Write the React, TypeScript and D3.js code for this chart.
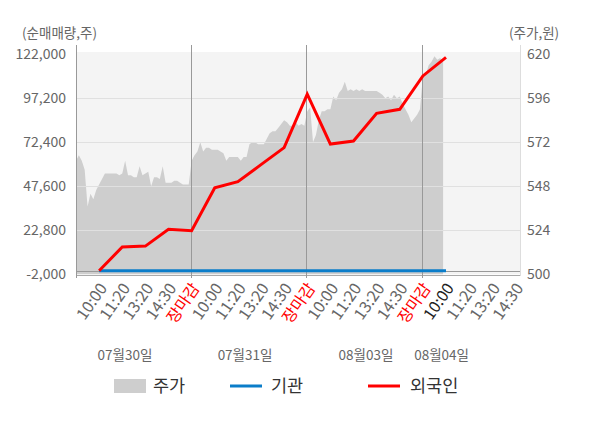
import { useRef, useEffect } from "react";
import * as d3 from "d3";

// x axis labels (one per slot, day 4 is cut at 14:30)
const timeLabels = [
  "10:00", "11:20", "13:20", "14:30", "장마감",
  "10:00", "11:20", "13:20", "14:30", "장마감",
  "10:00", "11:20", "13:20", "14:30", "장마감",
  "10:00", "11:20", "13:20", "14:30",
];
const dateLabels = ["07월30일", "07월31일", "08월03일", "08월04일"];
const volumeTicks = [-2000, 22800, 47600, 72400, 97200, 122000];
const priceTicks = [500, 524, 548, 572, 596, 620];

// cumulative net buy (shares), one value per time label
const foreignNet = [
  0, 13400, 13900, 23400, 22600, 46800, 50200, 59800,
  69400, 99500, 71400, 73100, 88700, 91000, 109800, 120300,
];
const institutionNet = [0, 0, 0, 0, 0, 0, 0, 0, 0, 0, 0, 0, 0, 0, 0, 0];

// intraday price (won), 8 samples per label slot
const price = [
  562, 565, 562, 557, 537, 544, 541, 546, 549, 552, 555, 555, 555, 555, 555, 554, 555, 562, 554, 554,
  553, 553, 559, 554, 555, 556, 548, 553, 553, 552, 559, 550, 550, 550, 551, 551, 550, 549, 549, 549,
  562, 565, 567, 572, 567, 569, 569, 568, 568, 568, 567, 566, 562, 564, 564, 564, 564, 562, 564, 564,
  571, 572, 572, 571, 571, 571, 574, 577, 578, 578, 580, 582, 584, 583, 581, 581, 583, 581, 582, 581,
  589, 591, 572, 576, 584, 589, 589, 590, 590, 597, 595, 599, 601, 605, 600, 601, 600, 601, 600, 601,
  600, 600, 600, 600, 600, 599, 598, 596, 597, 595, 598, 596, 597, 593, 590, 587, 583, 585, 587, 590,
  608, 609, 614, 616, 619, 617, 618, 616,
];

const SAMPLES_PER_SLOT = 8;
const dayBreaks = [5, 10, 15];
const dateLabelPos = [2.12, 7.31, 12.54, 15.81];

const FONT = "'Noto Sans CJK KR', 'Noto Sans', sans-serif";

const App = () => {
  const svgRef = useRef(null);

  useEffect(() => {
    document.body.style.margin = "0";
    d3.select(svgRef.current).selectAll("*").remove();

    const width = 600;
    const height = 428;
    const left = 76;
    const right = 520;
    const top = 54.3;
    const bottom = 274.3;

    const svg = d3
      .select(svgRef.current)
      .attr("width", width)
      .attr("height", height)
      .style("font-family", FONT);

    svg.append("rect").attr("width", width).attr("height", height).attr("fill", "#fff");

    const x = d3.scaleLinear().domain([0, 19.2]).range([left, right]);
    const yVol = d3.scaleLinear().domain([-2000, 122000]).range([bottom, top]);
    const yPrice = d3.scaleLinear().domain([500, 620]).range([bottom, top]);

    // plot background
    svg
      .append("rect")
      .attr("x", left)
      .attr("y", 52)
      .attr("width", right - left)
      .attr("height", bottom - 52)
      .attr("fill", "#f4f4f4");

    // price area
    const area = d3
      .area()
      .x((d, i) => x(i / SAMPLES_PER_SLOT))
      .y0(bottom)
      .y1((d) => yPrice(d));

    svg.append("path").datum(price).attr("d", area).attr("fill", "#cecece");

    // horizontal grid
    svg
      .selectAll(".grid")
      .data(volumeTicks.slice(1, -1))
      .enter()
      .append("line")
      .attr("x1", left)
      .attr("x2", right)
      .attr("y1", (d) => Math.round(yVol(d)) + 0.5)
      .attr("y2", (d) => Math.round(yVol(d)) + 0.5)
      .attr("stroke", "#e0e0e0")
      .attr("stroke-width", 1);

    // zero line and bottom axis
    svg
      .append("line")
      .attr("x1", left)
      .attr("x2", right)
      .attr("y1", Math.round(yVol(0)) + 0.5)
      .attr("y2", Math.round(yVol(0)) + 0.5)
      .attr("stroke", "#999");
    svg
      .append("line")
      .attr("x1", left)
      .attr("x2", right)
      .attr("y1", 275.5)
      .attr("y2", 275.5)
      .attr("stroke", "#aaa");

    // day separators and side axes
    svg
      .selectAll(".vline")
      .data(dayBreaks)
      .enter()
      .append("line")
      .attr("x1", (d) => Math.round(x(d)) - 0.5)
      .attr("x2", (d) => Math.round(x(d)) - 0.5)
      .attr("y1", 45)
      .attr("y2", 278)
      .attr("stroke", "#999");
    svg
      .append("line")
      .attr("x1", left + 0.5)
      .attr("x2", left + 0.5)
      .attr("y1", 45)
      .attr("y2", 278)
      .attr("stroke", "#999");
    svg
      .append("line")
      .attr("x1", right + 0.5)
      .attr("x2", right + 0.5)
      .attr("y1", 45)
      .attr("y2", 276)
      .attr("stroke", "#ddd");

    // institution / foreign lines
    const volLine = d3
      .line()
      .x((d, i) => x(i + 1))
      .y((d) => yVol(d));

    svg
      .append("path")
      .datum(institutionNet)
      .attr("d", volLine)
      .attr("fill", "none")
      .attr("stroke", "#0b7dc9")
      .attr("stroke-width", 3);

    svg
      .append("path")
      .datum(foreignNet)
      .attr("d", volLine)
      .attr("fill", "none")
      .attr("stroke", "#ff0000")
      .attr("stroke-width", 3);

    // left axis labels
    const fmt = d3.format(",");
    svg
      .selectAll(".ylab")
      .data(volumeTicks)
      .enter()
      .append("text")
      .attr("x", 66)
      .attr("y", (d) => yVol(d))
      .attr("dy", "0.35em")
      .attr("text-anchor", "end")
      .attr("fill", "#666")
      .style("font-size", "14px")
      .text((d) => fmt(d).replace("\u2212", "-"));

    // right axis labels
    svg
      .selectAll(".plab")
      .data(priceTicks)
      .enter()
      .append("text")
      .attr("x", 527)
      .attr("y", (d) => yPrice(d))
      .attr("dy", "0.35em")
      .attr("text-anchor", "start")
      .attr("fill", "#666")
      .style("font-size", "14px")
      .text((d) => d);

    svg
      .append("text")
      .attr("x", 22)
      .attr("y", 33)
      .attr("dy", "0.35em")
      .attr("fill", "#666")
      .style("font-size", "13.5px")
      .text("(순매매량,주)");
    svg
      .append("text")
      .attr("x", 509)
      .attr("y", 33)
      .attr("dy", "0.35em")
      .attr("fill", "#666")
      .style("font-size", "13.5px")
      .text("(주가,원)");

    // rotated time labels
    svg
      .selectAll(".xlab")
      .data(timeLabels)
      .enter()
      .append("text")
      .attr("transform", (d, i) => `translate(${x(i + 1) + 4},${285}) rotate(-55)`)
      .attr("dy", "0.35em")
      .attr("text-anchor", "end")
      .attr("fill", (d, i) => (d === "장마감" ? "#ff0000" : i === 15 ? "#222" : "#666"))
      .style("font-size", "16px")
      .text((d) => d);

    // date labels
    svg
      .selectAll(".dlab")
      .data(dateLabels)
      .enter()
      .append("text")
      .attr("x", (d, i) => x(dateLabelPos[i]))
      .attr("y", 355)
      .attr("dy", "0.35em")
      .attr("text-anchor", "middle")
      .attr("fill", "#666")
      .style("font-size", "13.5px")
      .text((d) => d);

    // legend
    const legend = svg.append("g").style("font-size", "17.5px");
    legend
      .append("rect")
      .attr("x", 114)
      .attr("y", 379)
      .attr("width", 32)
      .attr("height", 14)
      .attr("fill", "#cecece");
    legend.append("text").attr("x", 153).attr("y", 386).attr("dy", "0.35em").attr("fill", "#333").text("주가");
    legend
      .append("line")
      .attr("x1", 230)
      .attr("x2", 262)
      .attr("y1", 386)
      .attr("y2", 386)
      .attr("stroke", "#0b7dc9")
      .attr("stroke-width", 3);
    legend.append("text").attr("x", 271).attr("y", 386).attr("dy", "0.35em").attr("fill", "#333").text("기관");
    legend
      .append("line")
      .attr("x1", 368)
      .attr("x2", 400)
      .attr("y1", 386)
      .attr("y2", 386)
      .attr("stroke", "#ff0000")
      .attr("stroke-width", 3);
    legend.append("text").attr("x", 410).attr("y", 386).attr("dy", "0.35em").attr("fill", "#333").text("외국인");
  }, []);

  return <svg ref={svgRef}></svg>;
};

export default App;
